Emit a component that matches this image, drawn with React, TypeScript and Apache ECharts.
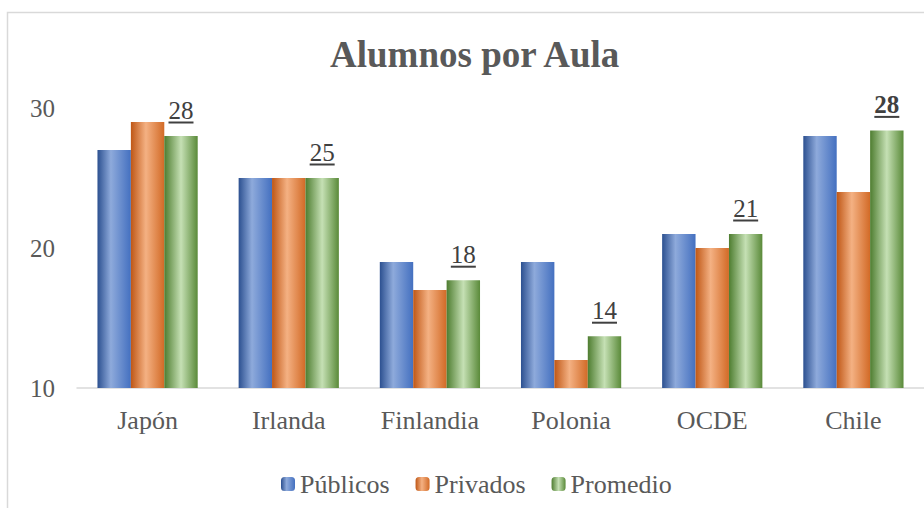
import React, { useEffect, useRef } from "react";
import * as echarts from "echarts";

const categories = ["Japón", "Irlanda", "Finlandia", "Polonia", "OCDE", "Chile"];
const publicos = [27, 25, 19, 19, 21, 28];
const privados = [29, 25, 17, 12, 20, 24];
const promedio = [28, 25, 17.7, 13.7, 21, 28.4];
const seriesNames = ["Públicos", "Privados", "Promedio"];
const yTicks = { min: 10, max: 30, interval: 10 };

const FONT = "'Liberation Serif', 'Times New Roman', serif";

function grad(stops: [number, string][]) {
  return new echarts.graphic.LinearGradient(
    0, 0, 1, 0,
    stops.map(([offset, color]) => ({ offset, color }))
  );
}

export default function App() {
  const ref = useRef<HTMLDivElement>(null);
  useEffect(() => {
    if (!ref.current) return;
    const chart = echarts.init(ref.current, undefined, { renderer: "svg" });
    const blue = grad([[0, "#2c5090"], [0.4, "#8eaadb"], [1, "#4470c0"]]);
    const orange = grad([[0, "#bf5716"], [0.45, "#f4b183"], [1, "#d26a26"]]);
    const green = grad([[0, "#4e7d30"], [0.5, "#c5e0b4"], [1, "#5a8a39"]]);
    const lastIdx = categories.length - 1;
    chart.setOption({
      animation: false,
      backgroundColor: "#ffffff",
      title: {
        text: "Alumnos por Aula",
        left: 325,
        top: 31,
        textStyle: { fontFamily: FONT, fontSize: 37, fontWeight: "bold", color: "#595959" },
      },
      graphic: [
        {
          type: "rect",
          shape: { x: 7.5, y: 12.5, width: 1000, height: 1000 },
          style: { fill: "none", stroke: "#d9d9d9", lineWidth: 1.5 },
          silent: true,
          z: -1,
        },
      ],
      legend: {
        left: 276,
        top: 466,
        itemWidth: 14,
        itemHeight: 14,
        itemGap: 26,
        textStyle: { fontFamily: FONT, fontSize: 26, color: "#595959" },
        data: seriesNames,
      },
      grid: { left: 77, right: -3, top: 108, bottom: 120, containLabel: false },
      xAxis: {
        type: "category",
        data: categories,
        axisLine: { lineStyle: { color: "#d9d9d9", width: 1.5 } },
        axisTick: { show: false },
        axisLabel: { fontFamily: FONT, fontSize: 26, color: "#595959", margin: 19 },
      },
      yAxis: {
        type: "value",
        min: yTicks.min,
        max: yTicks.max,
        interval: yTicks.interval,
        axisLine: { show: false },
        axisTick: { show: false },
        splitLine: { show: false },
        axisLabel: { fontFamily: FONT, fontSize: 25, color: "#595959", margin: 22 },
      },
      series: [
        {
          name: seriesNames[0],
          type: "bar",
          data: publicos,
          itemStyle: { color: blue },
          barGap: "0%",
          barCategoryGap: "29%",
        },
        {
          name: seriesNames[1],
          type: "bar",
          data: privados,
          itemStyle: { color: orange },
          barGap: "0%",
          barCategoryGap: "29%",
        },
        {
          name: seriesNames[2],
          type: "bar",
          data: promedio,
          itemStyle: { color: green },
          barGap: "0%",
          barCategoryGap: "29%",
          label: {
            show: true,
            position: "top",
            distance: 12,
            formatter: (p: any) => {
              const v = Math.round(p.value);
              return p.dataIndex === lastIdx ? `{vb|${v}}\n{u|}` : `{v|${v}}\n{u|}`;
            },
            rich: {
              v: { fontFamily: FONT, fontSize: 25, color: "#404040", lineHeight: 22, align: "center" },
              vb: { fontFamily: FONT, fontSize: 25, fontWeight: "bold", color: "#404040", lineHeight: 22, align: "center" },
              u: { width: 25, height: 2, lineHeight: 3, backgroundColor: "#404040", align: "center" },
            },
          },
        },
      ],
    });
    return () => chart.dispose();
  }, []);
  return (
    <div
      ref={ref}
      style={{ position: "fixed", left: 0, top: 0, width: 924, height: 508 }}
    />
  );
}
